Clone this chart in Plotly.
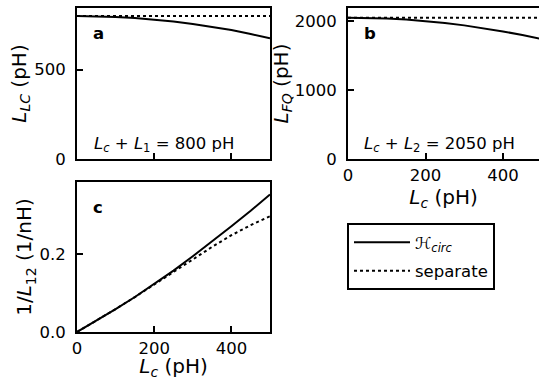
import plotly.graph_objects as go

# Lc sweep (pH)
lc = [0, 50, 100, 150, 200, 250, 300, 350, 400, 450, 500]

# panel a: L_LC (pH)
llc_circ = [800, 799, 795, 789, 780, 770, 756, 741, 722, 699, 676]
llc_sep = [800, 800, 800, 800, 800, 800, 800, 800, 800, 800, 800]

# panel b: L_FQ (pH)
lfq_circ = [2050, 2047, 2038, 2022, 2000, 1972, 1938, 1897, 1850, 1797, 1738]
lfq_sep = [2050, 2050, 2050, 2050, 2050, 2050, 2050, 2050, 2050, 2050, 2050]

# panel c: 1/L12 (1/nH)
inv_circ = [0, 0.029, 0.059, 0.090, 0.123, 0.158, 0.195, 0.233, 0.272, 0.312, 0.354]
inv_sep = [0, 0.029, 0.059, 0.090, 0.122, 0.155, 0.188, 0.219, 0.249, 0.275, 0.298]

W, H = 539, 380
FONT = "DejaVu Sans"
FS = 16.5

def px_x(a, b):
    return [a / W, min(b / W, 1.0)]

def px_y(top, bottom):
    return [1 - bottom / H, 1 - top / H]

fig = go.Figure()

solid = dict(color="black", width=2)
dotted = dict(color="black", width=2, dash="dot")

fig.add_trace(go.Scatter(x=lc, y=llc_circ, mode="lines", line=solid, name="ℋ<sub><i>circ</i></sub>",
                         legendgroup="circ", xaxis="x", yaxis="y"))
fig.add_trace(go.Scatter(x=lc, y=llc_sep, mode="lines", line=dotted, name="separate",
                         legendgroup="sep", xaxis="x", yaxis="y"))
fig.add_trace(go.Scatter(x=lc, y=lfq_circ, mode="lines", line=solid, showlegend=False, xaxis="x2", yaxis="y2"))
fig.add_trace(go.Scatter(x=lc, y=lfq_sep, mode="lines", line=dotted, showlegend=False, xaxis="x2", yaxis="y2"))
fig.add_trace(go.Scatter(x=lc, y=inv_circ, mode="lines", line=solid, showlegend=False, xaxis="x3", yaxis="y3"))
fig.add_trace(go.Scatter(x=lc, y=inv_sep, mode="lines", line=dotted, showlegend=False, xaxis="x3", yaxis="y3"))

ax = dict(showline=True, linewidth=2, linecolor="black", mirror=True, ticks="inside",
          ticklen=6, tickwidth=2, tickcolor="black", showgrid=False, zeroline=False,
          tickfont=dict(family=FONT, size=FS, color="black"), ticklabelstandoff=6,
          automargin=False)
xax = dict(ax, ticklabelstandoff=0)

lc_title = "<i>L</i><sub><i>c</i></sub> (pH)"

fig.update_layout(
    width=W, height=H,
    margin=dict(l=0, r=0, t=0, b=0),
    plot_bgcolor="white", paper_bgcolor="white",
    font=dict(family=FONT, size=FS, color="black"),
    xaxis=dict(xax, domain=px_x(77, 270), range=[0, 500], dtick=200, showticklabels=False, anchor="y"),
    yaxis=dict(ax, domain=px_y(8, 159), range=[0, 845], dtick=500, anchor="x",
               title=dict(text="<i>L</i><sub><i>LC</i></sub> (pH)", standoff=2)),
    xaxis2=dict(xax, domain=px_x(348, 542), range=[0, (539 - 348) / 0.3875], dtick=200, anchor="y2",
                title=dict(text=lc_title, standoff=4)),
    yaxis2=dict(ax, domain=px_y(8, 159), range=[0, 2190], dtick=1000, anchor="x2", mirror=False,
                title=dict(text="<i>L</i><sub><i>FQ</i></sub> (pH)", standoff=0)),
    xaxis3=dict(xax, domain=px_x(77, 270), range=[0, 500], dtick=200, anchor="y3",
                title=dict(text=lc_title, standoff=4)),
    yaxis3=dict(ax, domain=px_y(182, 332), range=[0, 0.386], dtick=0.2, tickformat=".1f", anchor="x3",
                title=dict(text="1/<i>L</i><sub>12</sub> (1/nH)", standoff=2)),
    legend=dict(x=347 / W, y=1 - 223 / H, xanchor="left", yanchor="top",
                bordercolor="black", borderwidth=2, bgcolor="white",
                font=dict(family=FONT, size=FS), itemwidth=56, tracegroupgap=4,
                traceorder="grouped"),
    showlegend=True,
)

ann = [
    dict(text="<b>a</b>", x=0.075, y=0.834, xref="x domain", yref="y domain"),
    dict(text="<b>b</b>", x=0.075, y=0.834, xref="x2 domain", yref="y2 domain"),
    dict(text="<b>c</b>", x=0.075, y=0.833, xref="x3 domain", yref="y3 domain"),
    dict(text="<i>L</i><sub><i>c</i></sub> + <i>L</i><sub>1</sub> = 800 pH", x=0.08, y=0.095,
         xref="x domain", yref="y domain"),
    dict(text="<i>L</i><sub><i>c</i></sub> + <i>L</i><sub>2</sub> = 2050 pH", x=0.075, y=0.095,
         xref="x2 domain", yref="y2 domain"),
]
for a in ann:
    fig.add_annotation(showarrow=False, xanchor="left", yanchor="middle",
                       font=dict(family=FONT, size=FS, color="black"), **a)

# page body has a default 8px margin; drop it so the figure sits at the corner
fig.write_html("out.html", config={"displayModeBar": False},
               post_script="document.body.style.margin='0';")
